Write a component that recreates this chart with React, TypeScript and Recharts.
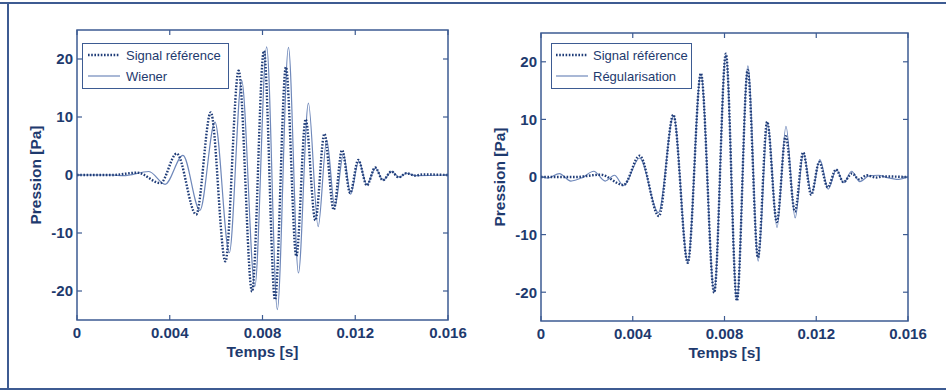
import { LineChart, Line, XAxis, YAxis, ReferenceArea } from "recharts";

// time (s) / pressure (Pa)
const refT = [0, 0.0015, 0.0026, 0.0036, 0.0043, 0.00514, 0.00577, 0.0064, 0.00697, 0.00755, 0.00806, 0.00854, 0.00901, 0.00946, 0.00986, 0.01028, 0.01067, 0.01107, 0.01143, 0.01178, 0.01213, 0.0125, 0.01286, 0.01319, 0.01356, 0.01387, 0.0142, 0.0146, 0.0149, 0.016];
const refV = [0, 0, 0.4, -1.4, 3.7, -6.8, 10.8, -14.9, 18, -20.1, 21.4, -21.5, 18.6, -14, 9.6, -7.8, 7.1, -6, 4.3, -3.1, 2.6, -1.8, 1.3, -0.9, 0.6, -0.4, 0.3, -0.1, 0.1, 0];

const wienerT = [0, 0.0015, 0.002, 0.0031, 0.0038, 0.00457, 0.0053, 0.00595, 0.00657, 0.0071, 0.00767, 0.00818, 0.00864, 0.00912, 0.00955, 0.00998, 0.0104, 0.01077, 0.01112, 0.01149, 0.0118, 0.01215, 0.0125, 0.01287, 0.0132, 0.01357, 0.0139, 0.0142, 0.0146, 0.016];
const wienerV = [0, 0, -0.1, 0.6, -1.6, 3.4, -6.1, 9.1, -13.4, 16.3, -19.2, 22.1, -23.2, 22, -16.9, 12.4, -8.9, 6, -5.5, 3.6, -3.3, 2.4, -1.7, 1.2, -0.9, 0.6, -0.4, 0.3, -0.1, 0];

const regT = [0, 0.0003, 0.0008, 0.0013, 0.0018, 0.0023, 0.0028, 0.0032, 0.0036, 0.0043, 0.00512, 0.00578, 0.0064, 0.00697, 0.00755, 0.00806, 0.00854, 0.00902, 0.00947, 0.00988, 0.01029, 0.01068, 0.01108, 0.01144, 0.0118, 0.01216, 0.01252, 0.01288, 0.0132, 0.01354, 0.0139, 0.0143, 0.0147, 0.0151, 0.0155, 0.016];
const regV = [0, -0.2, 0.6, -0.7, -0.1, 1.0, -0.7, 0.3, -1.5, 3.3, -6.2, 10.6, -14.8, 17.9, -19.9, 21.2, -21.4, 19.3, -14.6, 9.5, -8.8, 8.8, -7.1, 4.1, -2.9, 3.0, -2.1, 1.3, -1.0, 1.0, -0.8, 0.2, 0.3, -0.1, -0.4, 0];

const xTicks = [0, 0.004, 0.008, 0.012, 0.016];
const yTicks = [-20, -10, 0, 10, 20];

const NAVY = "#1e3a6e";
const FRAME = "#3d5b92";
const DOT = "#1f3c78";
const SOLID = "#6f88ba";
const FONT = "'Liberation Sans', Arial, Helvetica, sans-serif";
const DASH = "1.6 1.6";

const pts = (ts: number[], vs: number[]) => ts.map((t, i) => ({ t, p: vs[i] }));

type PanelProps = {
  left: number;
  width: number;
  plotLeft: number;
  plotTop: number;
  plotRight: number;
  plotBottom: number;
  solidT: number[];
  solidV: number[];
  solidName: string;
  legend: { x: number; y: number; w: number; sample: number; text: number };
};

function Panel(p: PanelProps) {
  const H = 392;
  const plotH = p.plotBottom - p.plotTop;
  const plotW = p.plotRight - p.plotLeft;
  const xTick = (props: any) => {
    const { x, y, payload } = props;
    return (
      <g>
        <line x1={x} x2={x} y1={y} y2={y - 5} stroke={FRAME} strokeWidth={1.2} />
        <line x1={x} x2={x} y1={y - plotH} y2={y - plotH + 5} stroke={FRAME} strokeWidth={1.2} />
        <text x={x} y={y + 18} textAnchor="middle" fill={NAVY} fontFamily={FONT} fontWeight="bold" fontSize={15}>
          {String(payload.value)}
        </text>
      </g>
    );
  };
  const yTick = (props: any) => {
    const { x, y, payload } = props;
    return (
      <g>
        <line x1={x} x2={x + 5} y1={y} y2={y} stroke={FRAME} strokeWidth={1.2} />
        <line x1={x + plotW} x2={x + plotW - 5} y1={y} y2={y} stroke={FRAME} strokeWidth={1.2} />
        <text x={x - 4} y={y} dy="0.36em" textAnchor="end" fill={NAVY} fontFamily={FONT} fontWeight="bold" fontSize={15}>
          {String(payload.value)}
        </text>
      </g>
    );
  };
  const lg = p.legend;
  return (
    <div style={{ position: "absolute", left: p.left, top: 0, width: p.width, height: H }}>
      <LineChart
        width={p.width}
        height={H}
        margin={{ left: p.plotLeft - 60, top: p.plotTop, right: p.width - p.plotRight, bottom: H - p.plotBottom - 40 }}
      >
        <XAxis
          type="number"
          dataKey="t"
          domain={[0, 0.016]}
          ticks={xTicks}
          allowDataOverflow
          height={40}
          axisLine={false}
          tickLine={false}
          tickSize={0}
          tickMargin={0}
          tick={xTick}
          label={{ value: "Temps [s]", position: "insideBottom", offset: 3, fill: NAVY, fontFamily: FONT, fontWeight: "bold", fontSize: 15.5 }}
        />
        <YAxis
          type="number"
          domain={[-25, 25]}
          ticks={yTicks}
          allowDataOverflow
          width={60}
          axisLine={false}
          tickLine={false}
          tickSize={0}
          tickMargin={0}
          tick={yTick}
          label={{ value: "Pression [Pa]", angle: -90, position: "insideLeft", offset: 18, fill: NAVY, fontFamily: FONT, fontWeight: "bold", fontSize: 15.5, style: { textAnchor: "middle" } }}
        />
        <Line data={pts(p.solidT, p.solidV)} dataKey="p" type="monotone" dot={false} stroke={SOLID} strokeWidth={1.2} isAnimationActive={false} />
        <Line data={pts(refT, refV)} dataKey="p" type="monotone" dot={false} stroke={DOT} strokeWidth={2.4} strokeDasharray={DASH} isAnimationActive={false} />
        <ReferenceArea x1={0} x2={0.016} y1={-25} y2={25} fill="none" stroke={FRAME} strokeWidth={1.5} ifOverflow="visible" />
      </LineChart>
      <div
        style={{
          position: "absolute",
          left: lg.x,
          top: lg.y,
          width: lg.w,
          height: 46,
          boxSizing: "border-box",
          border: `1.5px solid ${FRAME}`,
          background: "#fff",
        }}
      >
        <svg width={lg.w} height={46} style={{ position: "absolute", left: -1.5, top: -1.5 }}>
          <line x1={lg.sample} x2={lg.sample + 32} y1={12} y2={12} stroke={DOT} strokeWidth={2.4} strokeDasharray={DASH} />
          <line x1={lg.sample} x2={lg.sample + 32} y1={33} y2={33} stroke={SOLID} strokeWidth={1.2} />
          <text x={lg.text} y={12} dy="0.36em" fill={NAVY} fontFamily={FONT} fontSize={13}>Signal référence</text>
          <text x={lg.text} y={33} dy="0.36em" fill={NAVY} fontFamily={FONT} fontSize={13}>{p.solidName}</text>
        </svg>
      </div>
    </div>
  );
}

export default function App() {
  return (
    <div style={{ position: "absolute", left: 0, top: 0, width: 946, height: 392, background: "#fff", overflow: "hidden" }}>
      <div style={{ position: "absolute", left: 0, top: 2, width: 946, height: 2, background: FRAME }} />
      <div style={{ position: "absolute", left: 0, top: 388, width: 946, height: 2, background: FRAME }} />
      <div style={{ position: "absolute", left: 7, top: 2, width: 2, height: 388, background: FRAME }} />
      <Panel
        left={0}
        width={470}
        plotLeft={77}
        plotTop={30}
        plotRight={448}
        plotBottom={320}
        solidT={wienerT}
        solidV={wienerV}
        solidName="Wiener"
        legend={{ x: 82, y: 43, w: 147, sample: 6, text: 44 }}
      />
      <Panel
        left={470}
        width={476}
        plotLeft={71}
        plotTop={33}
        plotRight={438}
        plotBottom={321}
        solidT={regT}
        solidV={regV}
        solidName="Régularisation"
        legend={{ x: 81, y: 43, w: 141, sample: 5, text: 42 }}
      />
    </div>
  );
}
